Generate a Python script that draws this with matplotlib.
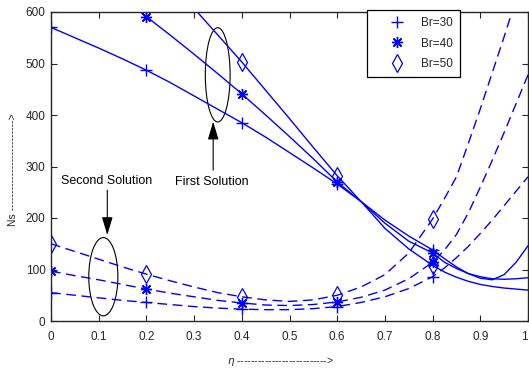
import matplotlib
matplotlib.use("Agg")
import matplotlib.pyplot as plt
from matplotlib.lines import Line2D
from matplotlib.patches import Ellipse

# ---------------------------------------------------------------------------
# Data
# ---------------------------------------------------------------------------
ETA = [0.00, 0.05, 0.10, 0.15, 0.20, 0.25, 0.30, 0.35, 0.40, 0.45, 0.50,
       0.55, 0.60, 0.65, 0.70, 0.75, 0.80, 0.825, 0.85, 0.875, 0.90,
       0.925, 0.95, 0.975, 1.00]

# first solution (solid)
FIRST_BR30 = [570, 550, 530, 509, 487, 463, 437, 411, 385, 357, 327,
              297, 266, 232, 196, 165, 138, 121, 105, 92, 83,
              80, 90, 114, 146]
FIRST_BR40 = [735, 699, 663, 627, 591, 555, 518, 480, 441, 400, 358,
              315, 270, 232, 190, 155, 132, 114, 102, 92, 86,
              82, 81, 82, 84]
FIRST_BR50 = [930, 875, 820, 767, 714, 660, 607, 555, 503, 448, 393,
              337, 282, 232, 180, 140, 108, 95, 85, 77, 71,
              67, 64, 62, 60]

# second solution (dashed)
SECOND_BR30 = [55, 50, 45, 40, 36, 32, 28, 25, 23, 22, 22,
               24, 28, 36, 47, 63, 86, 103, 123, 145, 170,
               196, 224, 252, 280]
SECOND_BR40 = [97, 88, 80, 71, 62, 54, 47, 40, 35, 31, 30,
               32, 37, 46, 60, 82, 114, 138, 168, 210, 260,
               312, 366, 422, 478]
SECOND_BR50 = [150, 135, 120, 105, 91, 78, 66, 55, 47, 41, 38,
               41, 50, 66, 90, 132, 198, 238, 280, 345, 412,
               482, 552, 625, 700]

LABELS = ["Br=30", "Br=40", "Br=50"]
MARK_IDX = [0, 4, 8, 12, 16]   # eta = 0, 0.2, 0.4, 0.6, 0.8

# ---------------------------------------------------------------------------
# Style
# ---------------------------------------------------------------------------
BLUE = "#0000ff"
AX_COL = "#262626"
plt.rcParams["font.family"] = ["Liberation Sans", "DejaVu Sans"]
plt.rcParams["lines.scale_dashes"] = False

MARKERS = [
    dict(marker="+", markersize=8, markeredgewidth=1.0),
    dict(marker=(8, 2, 0), markersize=8, markeredgewidth=1.0),
    dict(marker="d", markersize=9, markeredgewidth=0.9, markerfacecolor="none"),
]

fig = plt.figure(figsize=(5.29, 3.68), dpi=100)
ax = fig.add_axes([51 / 529, 47 / 368, 477 / 529, 309 / 368])

first = [FIRST_BR30, FIRST_BR40, FIRST_BR50]
second = [SECOND_BR30, SECOND_BR40, SECOND_BR50]

for vals, mk in zip(first, MARKERS):
    ax.plot(ETA, vals, color=BLUE, lw=1.0, markevery=MARK_IDX, **mk)
for vals, mk in zip(second, MARKERS):
    ax.plot(ETA, vals, color=BLUE, lw=1.0, dashes=(7, 4),
            markevery=MARK_IDX, **mk)

ax.set_xlim(0, 1)
ax.set_ylim(0, 600)
ax.set_xticks([0, 0.1, 0.2, 0.3, 0.4, 0.5, 0.6, 0.7, 0.8, 0.9, 1])
ax.set_xticklabels(["0", "0.1", "0.2", "0.3", "0.4", "0.5", "0.6",
                    "0.7", "0.8", "0.9", "1"])
ax.set_yticks([0, 100, 200, 300, 400, 500, 600])
ax.tick_params(direction="in", length=4, width=0.8, colors=AX_COL,
               labelsize=8.5, top=True, right=True)
ax.tick_params(axis="x", pad=7)
ax.tick_params(axis="y", pad=4)
# last x label sits on the figure edge; keep it inside
ax.get_xticklabels()[-1].set_horizontalalignment("right")
for sp in ax.spines.values():
    sp.set_color(AX_COL)
    sp.set_linewidth(1.0)

# axis labels
ax.set_xlabel(r"$\eta$ " + "-" * 26 + ">", fontsize=7.5, color=AX_COL,
              va="center")
ax.xaxis.set_label_coords(0.48, -0.13)
ax.set_ylabel("Ns " + "-" * 26 + ">", fontsize=7.5, color=AX_COL,
              va="center")
ax.yaxis.set_label_coords(-0.08, 0.49)

# annotations: ellipses + arrows
ax.add_patch(Ellipse((0.3495, 478), 0.052, 183, fill=False,
                     ec="black", lw=0.8))
ax.add_patch(Ellipse((0.1097, 86), 0.061, 152, fill=False,
                     ec="black", lw=0.8))
arrow = dict(arrowstyle="-|>,head_length=1.1,head_width=0.33",
             color="black", lw=0.8, mutation_scale=10, shrinkA=0, shrinkB=0)
ax.annotate("", xy=(0.340, 387), xytext=(0.340, 293), arrowprops=arrow)
ax.annotate("", xy=(0.118, 167), xytext=(0.118, 254), arrowprops=arrow)
ax.text(0.3375, 270, "First Solution", fontsize=9, ha="center", va="center",
        color="black")
ax.text(0.117, 272, "Second Solution", fontsize=9, ha="center", va="center",
        color="black")

# legend: markers only
handles = [Line2D([], [], color=BLUE, linestyle="none", **mk) for mk in MARKERS]
leg = ax.legend(handles, LABELS, loc="upper left",
                bbox_to_anchor=(0.6625, 1.0065), borderaxespad=0,
                fontsize=8.5, frameon=True, fancybox=False, framealpha=1,
                edgecolor="black", borderpad=0.6, handlelength=3.8,
                handletextpad=0.15, labelspacing=0.72)
leg.get_frame().set_linewidth(0.9)
for t in leg.get_texts():
    t.set_color(AX_COL)

fig.savefig("out.png", dpi=100, facecolor="white")
